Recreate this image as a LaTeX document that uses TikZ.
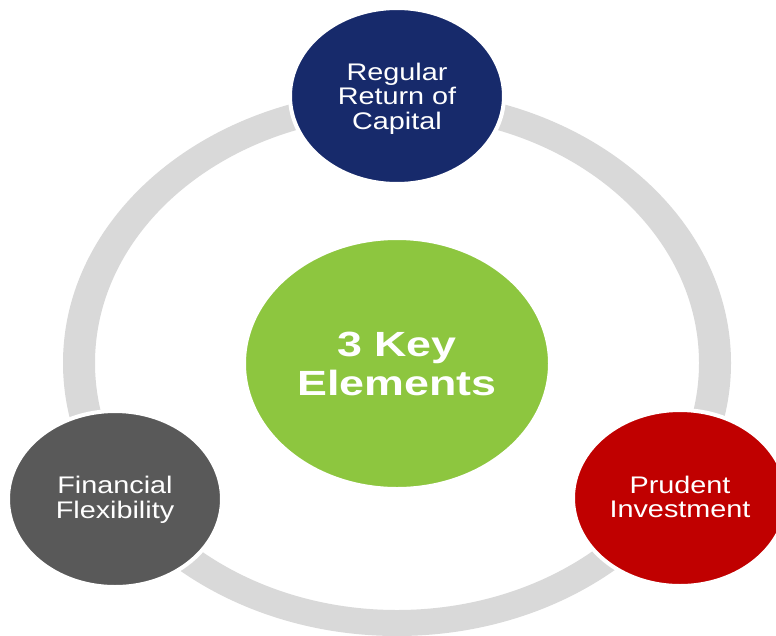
\documentclass[tikz,border=0pt]{standalone}
\usepackage{fontspec}
\setmainfont{Liberation Sans}
\usetikzlibrary{shapes.geometric}
\definecolor{ringgray}{HTML}{D9D9D9}
\definecolor{navy}{HTML}{172A6B}
\definecolor{keygreen}{HTML}{8DC63F}
\definecolor{darkgray}{HTML}{595959}
\definecolor{keyred}{HTML}{C00000}
% #1 horizontal stretch, #2 extra room on top (moves text down by half), #3 lines
\newcommand{\stretchtext}[3]{\raisebox{0pt}[\dimexpr\height+#2\relax][\depth]{\scalebox{#1}[1]{\begin{tabular}{@{}c@{}}#3\end{tabular}}}}
\tikzset{
  bubble/.style={ellipse, draw=white, line width=4pt, inner sep=0pt, outer sep=0pt, text=white},
  outerbubble/.style={bubble, minimum width=214pt, minimum height=176pt, font=\fontsize{24}{24}\selectfont},
  corebubble/.style={bubble, fill=keygreen, minimum width=306pt, minimum height=251pt, font=\bfseries\fontsize{35}{38.5}\selectfont},
}
\begin{document}
\begin{tikzpicture}[x=1pt,y=-1pt]
\useasboundingbox[fill=white] (0,0) rectangle (776,635);
% ring
\fill[ringgray, even odd rule] (397,363) ellipse [x radius=334, y radius=273]
                               (397,363) ellipse [x radius=302, y radius=247];
% centre
\node[corebubble] (core) at (397,363.5) {\stretchtext{1.28}{10pt}{3 Key\\Elements}};
% outer elements
\node[outerbubble, fill=navy] (capital) at (397,96) {\stretchtext{1.2}{7pt}{Regular\\Return of\\Capital}};
\node[outerbubble, fill=darkgray] (flex) at (115,499) {\stretchtext{1.2}{4pt}{Financial\\Flexibility}};
\node[outerbubble, fill=keyred] (invest) at (680,498) {\stretchtext{1.2}{4pt}{Prudent\\Investment}};
\end{tikzpicture}
\end{document}
